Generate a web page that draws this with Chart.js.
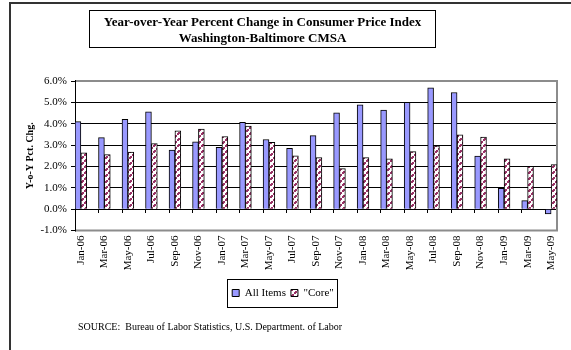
<!DOCTYPE html>
<html>
<head>
<meta charset="utf-8">
<script src="https://cdn.jsdelivr.net/npm/chart.js@4.4.1/dist/chart.umd.min.js"></script>
<style>
  html, body { margin: 0; padding: 0; background: #fff; }
  #wrap { position: relative; width: 571px; height: 350px; overflow: hidden; font-family: "Liberation Serif", "Times New Roman", serif; }
  #frame { position: absolute; left: 9px; top: 2px; width: 700px; height: 500px; border-left: 2px solid #333; border-top: 2px solid #333; }
  #chartTitle { position: absolute; left: 89px; top: 10px; width: 345px; height: 33px; border: 1px solid #000; text-align: center; font-weight: bold; font-size: 13px; line-height: 16px; padding-top: 3px; color: #000; }
  #source { position: absolute; left: 78px; top: 321px; font-size: 10px; color: #000; white-space: pre; }
  canvas { position: absolute; left: 0; top: 0; }
</style>
</head>
<body>
<div id="wrap">
  <div id="frame"></div>
  <canvas id="cpiChart" width="571" height="350"></canvas>
  <div id="chartTitle">Year-over-Year Percent Change in Consumer Price Index<br>Washington-Baltimore CMSA</div>
  <div id="source">SOURCE:  Bureau of Labor Statistics, U.S. Department. of Labor</div>
</div>
<script>
// bimonthly releases, Jan-06 .. May-09
const periodLabels = ["Jan-06", "Mar-06", "May-06", "Jul-06", "Sep-06", "Nov-06",
  "Jan-07", "Mar-07", "May-07", "Jul-07", "Sep-07", "Nov-07",
  "Jan-08", "Mar-08", "May-08", "Jul-08", "Sep-08", "Nov-08",
  "Jan-09", "Mar-09", "May-09"];
const allItems = [4.1, 3.35, 4.2, 4.56, 2.77, 3.15, 2.9, 4.06, 3.26, 2.85, 3.44, 4.51,
  4.88, 4.64, 5.0, 5.68, 5.46, 2.49, 0.98, 0.4, -0.22];
const coreItems = [2.64, 2.55, 2.67, 3.07, 3.67, 3.75, 3.4, 3.89, 3.13, 2.5, 2.41, 1.9,
  2.41, 2.36, 2.69, 2.97, 3.48, 3.37, 2.36, 2.0, 2.09];
const yTicks = [-1, 0, 1, 2, 3, 4, 5, 6];

// the axis is monthly, so the even months are empty slots
const labels = [];
const allData = [];
const coreData = [];
periodLabels.forEach((lab, i) => {
  labels.push(lab);
  allData.push(allItems[i]);
  coreData.push(coreItems[i]);
  if (i < periodLabels.length - 1) {
    labels.push("");
    allData.push(null);
    coreData.push(null);
  }
});

function makeCorePattern() {
  const tile = document.createElement("canvas");
  tile.width = 6;
  tile.height = 6;
  const c = tile.getContext("2d");
  c.fillStyle = "#ffffff";
  c.fillRect(0, 0, 6, 6);
  c.fillStyle = "#993366";
  // dashed upward diagonal
  c.fillRect(0, 4, 2, 2);
  c.fillRect(1, 3, 2, 2);
  c.fillRect(3, 1, 2, 2);
  c.fillRect(4, 0, 2, 2);
  return c.createPattern(tile, "repeat");
}

const serif = "'Liberation Serif', 'Times New Roman', serif";

const plotFrame = {
  id: "plotFrame",
  beforeDatasetsDraw(chart) {
    const { ctx, chartArea: a } = chart;
    ctx.save();
    ctx.strokeStyle = "#8c8c8c";
    ctx.lineWidth = 2;
    ctx.beginPath();
    ctx.moveTo(a.left, a.top);
    ctx.lineTo(a.right, a.top);
    ctx.lineTo(a.right, a.bottom);
    ctx.lineTo(a.left, a.bottom);
    ctx.stroke();
    ctx.strokeStyle = "#000";
    ctx.lineWidth = 1;
    ctx.beginPath();
    ctx.moveTo(a.left + 0.5, a.top - 1);
    ctx.lineTo(a.left + 0.5, a.bottom + 1);
    ctx.stroke();
    ctx.restore();
  },
  afterDraw(chart) {
    const boxes = chart.legend && chart.legend.legendHitBoxes;
    if (!boxes || !boxes.length) return;
    const left = Math.min(...boxes.map((b) => b.left)) - 5;
    const right = Math.max(...boxes.map((b) => b.left + b.width)) + 3;
    const top = Math.min(...boxes.map((b) => b.top)) - 8.5;
    const bottom = Math.max(...boxes.map((b) => b.top + b.height)) + 8.5;
    const ctx = chart.ctx;
    ctx.save();
    ctx.strokeStyle = "#000";
    ctx.lineWidth = 1;
    ctx.strokeRect(Math.round(left) + 0.5, Math.round(top) + 0.5, Math.round(right - left), Math.round(bottom - top));
    ctx.restore();
  }
};

new Chart(document.getElementById("cpiChart"), {
  type: "bar",
  data: {
    labels: labels,
    datasets: [
      {
        label: "All Items",
        data: allData,
        backgroundColor: "#9999ff",
        borderColor: "#000",
        borderWidth: 1,
        barPercentage: 1,
        categoryPercentage: 1
      },
      {
        label: "\"Core\"",
        data: coreData,
        backgroundColor: makeCorePattern(),
        borderColor: "#000",
        borderWidth: 1,
        barPercentage: 1,
        categoryPercentage: 1
      }
    ]
  },
  options: {
    responsive: false,
    animation: false,
    layout: { padding: { left: 9, right: 14, top: 81, bottom: 41.5 } },
    plugins: {
      tooltip: { enabled: false },
      legend: {
        position: "bottom",
        labels: {
          color: "#000",
          font: { family: serif, size: 11 },
          boxWidth: 7,
          boxHeight: 7,
          padding: 5
        }
      }
    },
    scales: {
      x: {
        offset: true,
        grid: { display: false, drawTicks: false },
        border: { display: false },
        ticks: {
          autoSkip: false,
          maxRotation: 90,
          minRotation: 90,
          padding: 5,
          color: "#000",
          font: { family: serif, size: 11 }
        },
        afterFit(scale) { scale.height = 52; }
      },
      xTicks: {
        type: "category",
        position: { y: 0 },
        offset: true,
        grid: {
          offset: true,
          drawOnChartArea: false,
          drawTicks: true,
          tickLength: 4,
          tickColor: (ctx) => (ctx.index % 2 === 0 ? "#000" : "rgba(0,0,0,0)"),
          color: "rgba(0,0,0,0)"
        },
        border: { display: false },
        ticks: { display: false }
      },
      y: {
        min: -1,
        max: 6,
        afterBuildTicks(scale) { scale.ticks = yTicks.map((v) => ({ value: v })); },
        grid: { color: "#000", lineWidth: 1, tickLength: 4, tickColor: "#000" },
        border: { display: false },
        ticks: {
          padding: 4,
          color: "#000",
          font: { family: serif, size: 11 },
          callback: (v) => Number(v).toFixed(1) + "%"
        },
        title: {
          display: true,
          text: "Y-o-Y Pct. Chg.",
          color: "#000",
          font: { family: serif, size: 10, weight: "bold" },
          padding: { top: 15, bottom: 0 }
        },
        afterFit(scale) { scale.width = 66; }
      }
    }
  },
  plugins: [plotFrame]
});
</script>
</body>
</html>
